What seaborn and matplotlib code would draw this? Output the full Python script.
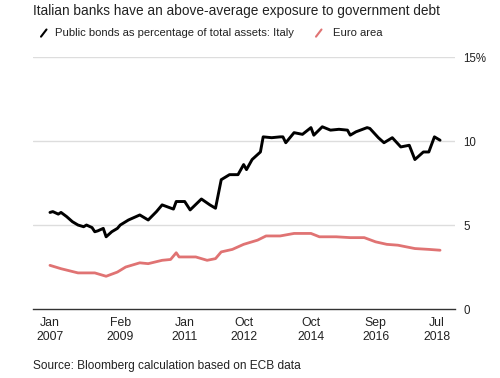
import pandas as pd
import seaborn as sns
import matplotlib.pyplot as plt
from matplotlib.lines import Line2D

# ==== Data (percent of total assets) ====
italy_dates = ["2007-01", "2007-02", "2007-04", "2007-05", "2007-07", "2007-09", "2007-11",
               "2008-01", "2008-02", "2008-04", "2008-05", "2008-06", "2008-08", "2008-09",
               "2008-11", "2009-01", "2009-02", "2009-05", "2009-09", "2009-12", "2010-03",
               "2010-05", "2010-09", "2010-10", "2011-01", "2011-03", "2011-07", "2011-10",
               "2011-12", "2012-02", "2012-05", "2012-08", "2012-10", "2012-11", "2013-01",
               "2013-04", "2013-05", "2013-08", "2013-11", "2013-12", "2014-01", "2014-04",
               "2014-07", "2014-10", "2014-11", "2015-02", "2015-05", "2015-08", "2015-11",
               "2015-12", "2016-02", "2016-06", "2016-07", "2016-10", "2016-12", "2017-03",
               "2017-06", "2017-09", "2017-11", "2018-02", "2018-04", "2018-06", "2018-08"]
italy_vals = [5.75, 5.8, 5.65, 5.75, 5.5, 5.2, 5.0,
              4.9, 5.0, 4.85, 4.6, 4.65, 4.8, 4.3,
              4.6, 4.8, 5.0, 5.3, 5.6, 5.3, 5.8,
              6.2, 5.95, 6.4, 6.4, 5.9, 6.55, 6.2,
              6.0, 7.7, 8.0, 8.0, 8.6, 8.3, 8.9,
              9.35, 10.25, 10.2, 10.25, 10.25, 9.9, 10.5,
              10.4, 10.8, 10.35, 10.85, 10.65, 10.7, 10.65,
              10.35, 10.55, 10.8, 10.75, 10.2, 9.9, 10.2,
              9.65, 9.75, 8.9, 9.35, 9.35, 10.25, 10.05]

euro_dates = ["2007-01", "2007-05", "2007-11", "2008-05", "2008-09", "2009-01", "2009-04",
              "2009-09", "2009-12", "2010-05", "2010-08", "2010-10", "2010-11", "2011-05",
              "2011-09", "2011-12", "2012-02", "2012-06", "2012-10", "2013-03", "2013-06",
              "2013-11", "2014-04", "2014-10", "2015-01", "2015-07", "2015-12", "2016-05",
              "2016-09", "2017-01", "2017-05", "2017-11", "2018-04", "2018-08"]
euro_vals = [2.6, 2.4, 2.15, 2.15, 1.95, 2.2, 2.5,
             2.75, 2.7, 2.9, 2.95, 3.35, 3.1, 3.1,
             2.9, 3.0, 3.4, 3.55, 3.85, 4.1, 4.35,
             4.35, 4.5, 4.5, 4.3, 4.3, 4.25, 4.25,
             4.0, 3.85, 3.8, 3.6, 3.55, 3.5]

tick_dates = ["2007-01", "2009-02", "2011-01", "2012-10", "2014-10", "2016-09", "2018-07"]
tick_labels = ["Jan\n2007", "Feb\n2009", "Jan\n2011", "Oct\n2012", "Oct\n2014", "Sep\n2016", "Jul\n2018"]
y_ticks = [0, 5, 10, 15]
y_labels = ["0", "5", "10", "15%"]

italy = pd.DataFrame({"date": pd.to_datetime(italy_dates), "value": italy_vals})
euro = pd.DataFrame({"date": pd.to_datetime(euro_dates), "value": euro_vals})

black = "#000000"
red = "#e07373"
text_col = "#222222"

sns.set_style("white")
plt.rcParams["font.family"] = ["Liberation Sans", "DejaVu Sans"]

fig = plt.figure(figsize=(5, 3.78), dpi=100)
ax = fig.add_axes([0.066, 0.1825, 0.844, 0.6665])

for y in [5, 10, 15]:
    ax.axhline(y, color="#dddddd", lw=1, zorder=0)

sns.lineplot(data=euro, x="date", y="value", color=red, lw=2, ax=ax)
sns.lineplot(data=italy, x="date", y="value", color=black, lw=2.1, ax=ax)

ax.set_xlim(pd.Timestamp("2006-07-01"), pd.Timestamp("2019-01-10"))
ax.set_ylim(0, 15)
ax.set_xlabel("")
ax.set_ylabel("")

ax.yaxis.tick_right()
ax.set_yticks(y_ticks)
ax.set_yticklabels(y_labels, fontsize=8.3, color=text_col)
ax.tick_params(axis="y", length=0, pad=6)

ax.set_xticks(pd.to_datetime(tick_dates))
ax.set_xticklabels(tick_labels, fontsize=8.8, color=text_col, linespacing=1.2)
ax.tick_params(axis="x", length=4, width=0.8, color="#333333", direction="out", pad=2)

for s in ["top", "right", "left"]:
    ax.spines[s].set_visible(False)
ax.spines["bottom"].set_color("#333333")
ax.spines["bottom"].set_linewidth(1)

fig.text(0.066, 0.99, "Italian banks have an above-average exposure to government debt",
         fontsize=9.85, color=text_col, va="top")

# legend with slash icons
fig.add_artist(Line2D([0.082, 0.093], [0.903, 0.922], color=black, lw=1.5))
fig.text(0.11, 0.913, "Public bonds as percentage of total assets: Italy",
         fontsize=8.15, color=text_col, va="center")
fig.add_artist(Line2D([0.632, 0.643], [0.903, 0.922], color=red, lw=1.5))
fig.text(0.666, 0.913, "Euro area", fontsize=8.15, color=text_col, va="center")

fig.text(0.066, 0.032, "Source: Bloomberg calculation based on ECB data",
         fontsize=8.6, color=text_col, va="center")

fig.savefig("out.png", dpi=100, facecolor="white")
